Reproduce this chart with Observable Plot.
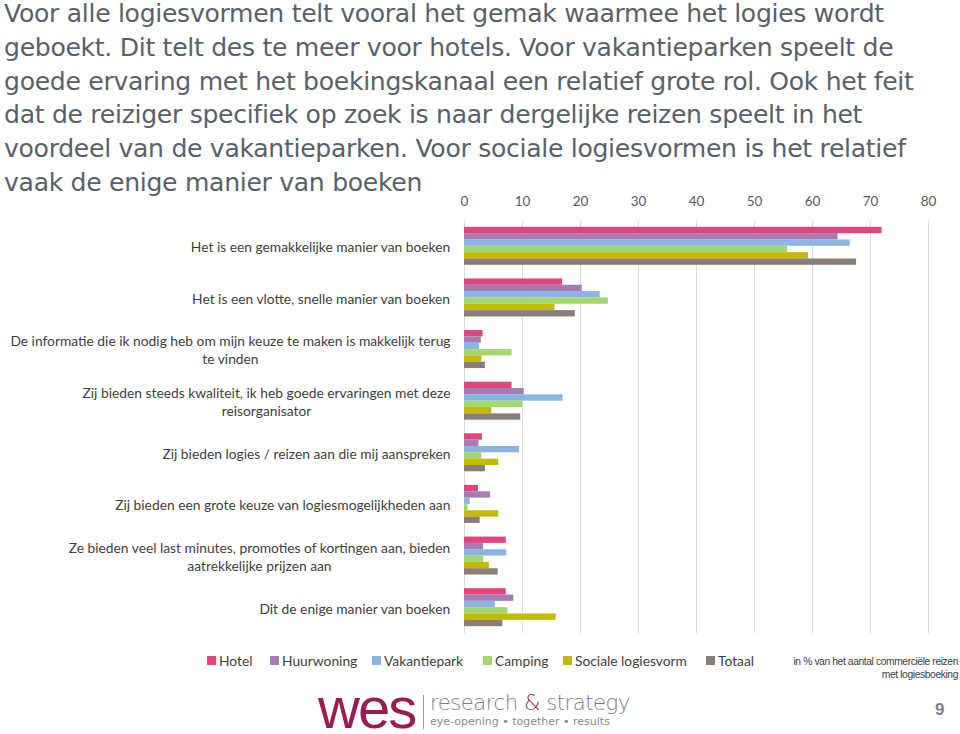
<!DOCTYPE html>
<html>
<head>
<meta charset="utf-8">
<script src="https://cdn.jsdelivr.net/npm/d3@7"></script>
<script src="https://cdn.jsdelivr.net/npm/@observablehq/plot@0.6"></script>
<style>
  html, body { margin: 0; padding: 0; background: #fff; }
  #wrap { position: relative; width: 960px; height: 734px; overflow: hidden; }
  #chart { position: absolute; left: 0; top: 0; }
  #title { position: absolute; left: 4px; top: -3px; font-family: "DejaVu Sans", sans-serif; font-size: 25.1px; line-height: 33.8px; color: #596168; white-space: nowrap; letter-spacing: -0.3px; z-index: 2; }
  #legend { position: absolute; left: 0; top: 652px; width: 780px; height: 20px; font-family: Lato, sans-serif; font-size: 13.8px; color: #404040; }
  #legend .item { position: absolute; top: 0; display: flex; align-items: center; white-space: nowrap; }
  #legend .sw { width: 9px; height: 9px; margin-right: 3px; }
  #note { position: absolute; right: 2px; top: 655px; font-family: "Liberation Sans Narrow", "Liberation Sans", sans-serif; font-size: 10.3px; letter-spacing: -0.4px; line-height: 13px; color: #404040; text-align: right; }
  #logo { position: absolute; left: 318px; top: 688px; height: 46px; }
  #wes { position: absolute; left: 0; top: -3px; font-family: "Liberation Sans", sans-serif; font-size: 58px; line-height: 0.8; letter-spacing: -2px; color: #9b1d50; }
  #bar { position: absolute; left: 105px; top: 7px; width: 1px; height: 34px; background: #999; }
  #rs { position: absolute; left: 112px; top: 2px; font-family: "DejaVu Sans", sans-serif; font-weight: 200; font-size: 21.2px; color: #7f7f7f; white-space: nowrap; letter-spacing: -0.5px; }
  #rs .amp { color: #9b1d50; }
  #tag { position: absolute; left: 112px; top: 27px; font-family: "DejaVu Sans", sans-serif; font-size: 11px; color: #8a8a8a; white-space: nowrap; }
  #page { position: absolute; left: 935px; top: 700px; font-family: "Liberation Sans", sans-serif; font-weight: bold; font-size: 17px; color: #7f7f7f; }
</style>
</head>
<body>
<div id="wrap">
  <div id="chart"></div>
  <div id="title">Voor alle logiesvormen telt vooral het gemak waarmee het logies wordt<br>geboekt. Dit telt des te meer voor hotels. Voor vakantieparken speelt de<br>goede ervaring met het boekingskanaal een relatief grote rol. Ook het feit<br>dat de reiziger specifiek op zoek is naar dergelijke reizen speelt in het<br>voordeel van de vakantieparken. Voor sociale logiesvormen is het relatief<br>vaak de enige manier van boeken</div>
  <div id="legend"></div>
  <div id="note">in % van het aantal commerciële reizen<br>met logiesboeking</div>
  <div id="logo">
    <div id="wes">wes</div>
    <div id="bar"></div>
    <div id="rs">research <span class="amp">&amp;</span> strategy</div>
    <div id="tag">eye-opening • together • results</div>
  </div>
  <div id="page">9</div>
</div>
<script>
const categories = [
  "Het is een gemakkelijke manier van boeken",
  "Het is een vlotte, snelle manier van boeken",
  "De informatie die ik nodig heb om mijn keuze te maken is makkelijk terug\nte vinden",
  "Zij bieden steeds kwaliteit, ik heb goede ervaringen met deze\nreisorganisator",
  "Zij bieden logies / reizen aan die mij aanspreken",
  "Zij bieden een grote keuze van logiesmogelijkheden aan",
  "Ze bieden veel last minutes, promoties of kortingen aan, bieden\naatrekkelijke prijzen aan",
  "Dit de enige manier van boeken"
];
const series = ["Hotel", "Huurwoning", "Vakantiepark", "Camping", "Sociale logiesvorm", "Totaal"];
const hotel        = [72.0, 16.9, 3.2, 8.2, 3.1, 2.4, 7.2, 7.2];
const huurwoning   = [64.4, 20.3, 2.9, 10.3, 2.5, 4.5, 3.3, 8.5];
const vakantiepark = [66.5, 23.4, 2.6, 17.0, 9.5, 1.0, 7.3, 5.3];
const camping      = [55.7, 24.8, 8.2, 10.1, 3.0, 0.6, 3.3, 7.5];
const sociale      = [59.3, 15.6, 3.0, 4.7, 5.9, 5.9, 4.3, 15.8];
const totaal       = [67.6, 19.1, 3.6, 9.7, 3.6, 2.7, 5.8, 6.6];
const xTicks = [0, 10, 20, 30, 40, 50, 60, 70, 80];
const colors = ["#e2457e", "#a57db5", "#8cb4e3", "#a3d86e", "#c4bb00", "#8b7d78"];
const legendLefts = [207, 270, 372, 483, 563, 706];

const valuesBySeries = [hotel, huurwoning, vakantiepark, camping, sociale, totaal];
const rows = [];
categories.forEach((c, i) => {
  series.forEach((s, j) => {
    rows.push({category: c, ci: i, series: s, sj: j, value: valuesBySeries[j][i]});
  });
});

const groupSpan = 0.736;               // fraction of each category band used by its bars
const barSpan = groupSpan / series.length;

const labelSize = 13.8;
const ctx = document.createElement("canvas").getContext("2d");
ctx.font = labelSize + "px Lato";
const labelWidth = (t) => Math.max(...t.split("\n").map(l => ctx.measureText(l).width));

const labelMarks = categories.map((c, i) =>
  Plot.text([c], {
    y: () => i,
    frameAnchor: "left",
    textAnchor: "middle",
    dx: -(14 + labelWidth(c) / 2),
    lineHeight: 1.32,
    fill: "#404040",
    fontSize: labelSize,
    fontFamily: "Lato"
  })
);

const chart = Plot.plot({
  width: 960,
  height: 640,
  marginTop: 220,
  marginBottom: 7,
  marginLeft: 464,
  marginRight: 32,
  style: {fontFamily: "Lato", fontSize: "13.5px", color: "#595959", background: "transparent"},
  x: {domain: [0, 80], ticks: xTicks, axis: "top", tickSize: 0, tickPadding: 15, label: null},
  y: {domain: [-0.5, categories.length - 0.5], reverse: true, axis: null},
  color: {domain: series, range: colors},
  marks: [
    Plot.ruleX(xTicks, {stroke: "#d9d9d9", strokeWidth: 1}),
    Plot.rect(rows, {
      x1: 0,
      x2: "value",
      y1: d => d.ci - groupSpan / 2 + d.sj * barSpan,
      y2: d => d.ci - groupSpan / 2 + (d.sj + 1) * barSpan,
      fill: "series"
    }),
    ...labelMarks
  ]
});
document.getElementById("chart").appendChild(chart);

const legend = document.getElementById("legend");
series.forEach((s, j) => {
  const item = document.createElement("div");
  item.className = "item";
  item.style.left = legendLefts[j] + "px";
  const sw = document.createElement("span");
  sw.className = "sw";
  sw.style.background = colors[j];
  const t = document.createElement("span");
  t.textContent = s;
  item.appendChild(sw);
  item.appendChild(t);
  legend.appendChild(item);
});
</script>
</body>
</html>
